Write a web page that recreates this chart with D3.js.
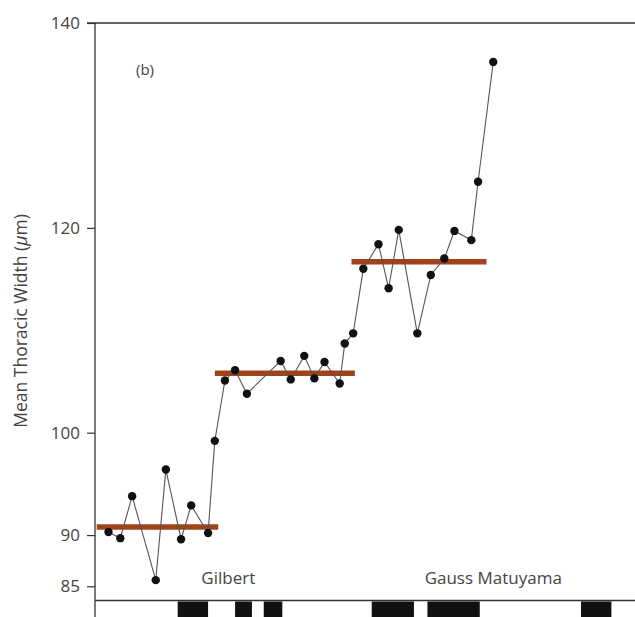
<!DOCTYPE html>
<html>
<head>
<meta charset="utf-8">
<script src="https://cdn.jsdelivr.net/npm/d3@7"></script>
<style>
  body { margin: 0; background: #fff; }
  svg { display: block; font-family: "Open Sans", sans-serif; }
</style>
</head>
<body>
<svg id="chart"></svg>
<script>
// sample ages (Ma) and mean thoracic widths (µm)
const ages = [4.72, 4.65, 4.58, 4.44, 4.38, 4.29, 4.23, 4.13, 4.09, 4.03, 3.97, 3.90,
  3.70, 3.64, 3.56, 3.50, 3.44, 3.35, 3.32, 3.27, 3.21, 3.12, 3.06, 3.00,
  2.89, 2.81, 2.73, 2.67, 2.57, 2.53, 2.44];
const widths = [90.3, 89.7, 93.8, 85.6, 96.4, 89.6, 92.9, 90.2, 99.2, 105.1, 106.1, 103.8,
  107.0, 105.2, 107.5, 105.3, 106.9, 104.8, 108.7, 109.7, 116.0, 118.4, 114.1, 119.8,
  109.7, 115.4, 117.0, 119.7, 118.8, 124.5, 136.2];

// mean levels for each stasis interval
const meanStart = [4.79, 4.09, 3.28];
const meanEnd = [4.07, 3.26, 2.48];
const meanValue = [90.8, 105.8, 116.7];

// normal polarity intervals (black bars)
const chronStart = [4.31, 3.97, 3.80, 3.16, 2.83, 1.92];
const chronEnd = [4.13, 3.87, 3.69, 2.91, 2.52, 1.74];

const yTicks = [85, 90, 100, 120, 140];
const zoneLabels = ["Gilbert", "Gauss Matuyama"];
const zoneLabelAge = [4.01, 2.44];

const W = 635, H = 617;
const svg = d3.select("#chart").attr("width", W).attr("height", H);

const x = d3.scaleLinear().domain([4.8, 1.6]).range([95, 635]);
const y = d3.scaleLinear().domain([85, 140]).range([586.3, 23]);
const baseY = 600.5;

const ink = "#333";

// y axis
const yAxis = svg.append("g")
  .attr("transform", "translate(95,0)")
  .call(d3.axisLeft(y).tickValues(yTicks).tickSize(8).tickPadding(7));
yAxis.select(".domain").remove();
yAxis.selectAll("line").attr("stroke", ink).attr("stroke-width", 1.2);
yAxis.selectAll("text")
  .attr("fill", "#444")
  .style("font-size", "17px")
  .style("font-family", "Open Sans, sans-serif");

// frame lines
svg.append("line")
  .attr("x1", 95).attr("x2", 95)
  .attr("y1", y(140)).attr("y2", H)
  .attr("stroke", ink).attr("stroke-width", 1.3);
svg.append("line")
  .attr("x1", 87).attr("x2", W)
  .attr("y1", y(140)).attr("y2", y(140))
  .attr("stroke", ink).attr("stroke-width", 1.3);
svg.append("line")
  .attr("x1", 95).attr("x2", W)
  .attr("y1", baseY).attr("y2", baseY)
  .attr("stroke", ink).attr("stroke-width", 1.3);

// polarity bars
svg.selectAll(".chron")
  .data(chronStart)
  .enter()
  .append("rect")
  .attr("class", "chron")
  .attr("x", (d, i) => x(d))
  .attr("y", baseY + 1)
  .attr("width", (d, i) => x(chronEnd[i]) - x(d))
  .attr("height", 20)
  .attr("fill", "#111");

// zone labels
svg.selectAll(".zone")
  .data(zoneLabels)
  .enter()
  .append("text")
  .attr("class", "zone")
  .attr("x", (d, i) => x(zoneLabelAge[i]))
  .attr("y", 584)
  .attr("text-anchor", "middle")
  .attr("fill", "#444")
  .style("font-size", "17px")
  .text(d => d);

// panel letter
svg.append("text")
  .attr("x", 145)
  .attr("y", 75)
  .attr("text-anchor", "middle")
  .attr("fill", "#444")
  .style("font-size", "15px")
  .text("(b)");

// y label
const yLabel = svg.append("text")
  .attr("transform", "translate(27,321) rotate(-90)")
  .attr("text-anchor", "middle")
  .attr("fill", "#444")
  .style("font-size", "17.5px");
yLabel.append("tspan").text("Mean Thoracic Width (");
yLabel.append("tspan").style("font-style", "italic").text("\u03bc");
yLabel.append("tspan").text("m)");

// means
svg.selectAll(".mean")
  .data(meanValue)
  .enter()
  .append("line")
  .attr("class", "mean")
  .attr("x1", (d, i) => x(meanStart[i]))
  .attr("x2", (d, i) => x(meanEnd[i]))
  .attr("y1", d => y(d))
  .attr("y2", d => y(d))
  .attr("stroke", "#a0431b")
  .attr("stroke-width", 5.5);

// series
const points = ages.map((a, i) => ({ age: a, width: widths[i] }));

const line = d3.line()
  .x(d => x(d.age))
  .y(d => y(d.width));

svg.append("path")
  .datum(points)
  .attr("fill", "none")
  .attr("stroke", "#555")
  .attr("stroke-width", 1.1)
  .attr("d", line);

svg.selectAll(".pt")
  .data(points)
  .enter()
  .append("circle")
  .attr("class", "pt")
  .attr("cx", d => x(d.age))
  .attr("cy", d => y(d.width))
  .attr("r", 4.2)
  .attr("fill", "#111");
</script>
</body>
</html>
